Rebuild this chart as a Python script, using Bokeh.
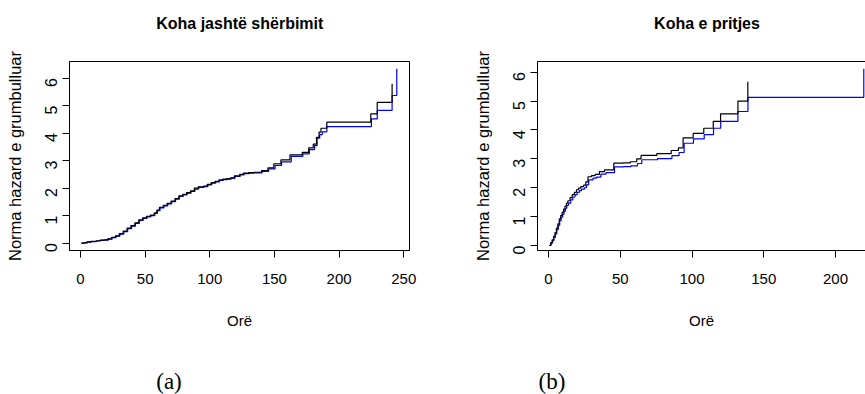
import math
from bokeh.plotting import figure
from bokeh.models import Range1d, FixedTicker, LinearAxis
from bokeh.layouts import row, column
from bokeh.core.properties import value
from bokeh.embed import file_html
from bokeh.resources import INLINE

# ---------------- data ----------------
title_a = "Koha jashtë shërbimit"
title_b = "Koha e pritjes"
y_label = "Norma hazard e grumbulluar"
x_label = "Orë"
tag_a = "(a)"
tag_b = "(b)"

x_ticks_a = [0, 50, 100, 150, 200, 250]
x_ticks_b = [0, 50, 100, 150, 200]
y_ticks = [0, 1, 2, 3, 4, 5, 6]

# panel (a): black and blue cumulative hazard steps
a_black_t = [0.5, 3, 5, 8, 12, 15, 18, 21, 24, 27, 30, 33, 36, 39, 42, 45, 48, 51, 54, 57,
             59, 61, 64, 67, 70, 73, 76, 79, 82, 85, 88, 91, 95, 98, 101, 104, 107, 110, 113, 116,
             119, 123, 126, 130, 134, 140, 145, 149.5, 155, 162, 171.5, 176.5, 180, 182.5, 184.5,
             186, 190.5, 224.5, 229.5, 241]
a_black_h = [0, 0.02, 0.05, 0.07, 0.09, 0.11, 0.12, 0.16, 0.21, 0.27, 0.35, 0.44, 0.55, 0.64, 0.74,
             0.85, 0.92, 0.98, 1.02, 1.10, 1.20, 1.30, 1.38, 1.45, 1.53, 1.62, 1.72, 1.78, 1.84, 1.90,
             2.00, 2.05, 2.08, 2.14, 2.20, 2.25, 2.30, 2.33, 2.35, 2.38, 2.45, 2.50, 2.55, 2.57, 2.58,
             2.64, 2.74, 2.89, 3.03, 3.21, 3.30, 3.47, 3.60, 3.85, 4.04, 4.18, 4.40, 4.70, 5.12, 5.80]

a_blue_t = [1, 3.5, 5.5, 8.5, 12.5, 15.5, 18.5, 21.5, 24.5, 27.5, 30.5, 33.5, 36.5, 39.5, 42.5,
            45.5, 48.5, 51.5, 54.5, 57.5, 59.5, 61.5, 64.5, 67.5, 70.5, 73.5, 76.5, 79.5, 82.5, 85.5,
            88.5, 91.5, 95.5, 98.5, 101.5, 104.5, 107.5, 110.5, 113.5, 116.5, 119.5, 123.5, 126.5,
            130.5, 134.5, 140.5, 145.5, 150.5, 155.5, 163, 172, 177, 181, 183, 185, 187, 190.5, 225,
            229.5, 241, 244.6]
a_blue_h = [0, 0.01, 0.04, 0.06, 0.08, 0.10, 0.11, 0.15, 0.20, 0.26, 0.33, 0.42, 0.53, 0.62, 0.72,
            0.83, 0.90, 0.96, 1.00, 1.08, 1.18, 1.28, 1.36, 1.43, 1.51, 1.60, 1.70, 1.76, 1.82, 1.88,
            1.97, 2.03, 2.06, 2.12, 2.18, 2.23, 2.28, 2.31, 2.33, 2.36, 2.43, 2.48, 2.53, 2.55, 2.56,
            2.61, 2.70, 2.83, 2.96, 3.16, 3.25, 3.40, 3.55, 3.82, 3.95, 4.05, 4.24, 4.52, 4.83, 5.37,
            6.34]

# panel (b)
b_black_t = [0.5, 1.5, 2.5, 3.5, 4.5, 5.5, 6.5, 7.5, 8.5, 9.5, 10.5, 11.5, 12.5, 13.5, 15, 16.5,
             18, 19.5, 21, 22.5, 24.5, 26, 27.5, 30, 32.5, 35.5, 39, 45.5, 52, 57, 61.5, 64.5, 75.5,
             85.5, 90.5, 93.8, 100.8, 108.2, 114.8, 119.9, 132, 138.9]
b_black_h = [0, 0.1, 0.2, 0.32, 0.45, 0.6, 0.75, 0.92, 1.04, 1.15, 1.26, 1.36, 1.47, 1.55, 1.66,
             1.76, 1.84, 1.93, 1.99, 2.04, 2.09, 2.2, 2.38, 2.42, 2.46, 2.56, 2.62, 2.85, 2.86, 2.90,
             3.0, 3.12, 3.18, 3.29, 3.38, 3.73, 3.88, 4.06, 4.30, 4.56, 5.0, 5.67]

b_blue_t = [0.8, 1.8, 2.8, 3.8, 4.8, 5.8, 6.8, 7.8, 8.8, 9.8, 10.8, 11.8, 12.8, 14, 15.5, 17, 18.5,
            20, 21.5, 23, 25, 26.5, 28, 31, 33.5, 36.5, 40, 46, 52.5, 57.5, 62, 65, 76, 86, 91, 94.5,
            101, 108.5, 115, 120, 132, 139, 219.7]
b_blue_h = [0, 0.08, 0.17, 0.28, 0.4, 0.55, 0.7, 0.86, 0.98, 1.08, 1.19, 1.29, 1.39, 1.47, 1.58,
            1.68, 1.76, 1.84, 1.9, 1.95, 2.0, 2.1, 2.27, 2.33, 2.37, 2.47, 2.52, 2.72, 2.73, 2.76,
            2.84, 2.97, 3.01, 3.11, 3.22, 3.54, 3.69, 3.84, 4.06, 4.30, 4.64, 5.13, 6.12]

SANS = "Liberation Sans"
SERIF = "Liberation Serif"

# page layout (pixels)
PAGE_W = 865
TOP_H = 40          # strip that holds the two titles
BOTTOM_H = 34       # strip that holds the panel tags
PANEL_H = 394 - TOP_H - BOTTOM_H
TITLE_POS = [(239.3, TOP_H - 23.0), (706.5, TOP_H - 23.0)]   # vertical text centres
TAG_POS = [(168.5, 13.5), (551.5, 13.5)]


def strip(height):
    s = figure(width=PAGE_W, height=height, output_backend="svg", toolbar_location=None,
               x_range=Range1d(0, PAGE_W), y_range=Range1d(0, height),
               x_axis_type=None, y_axis_type=None, min_border=0)
    s.outline_line_color = None
    s.background_fill_color = "white"
    s.border_fill_color = "white"
    return s


def style_panel(p, xticks):
    p.background_fill_color = "white"
    p.border_fill_color = "white"
    p.xgrid.visible = False
    p.ygrid.visible = False
    for ax in (p.xaxis[0], p.yaxis[0]):
        ax.axis_line_color = "black"
        ax.axis_line_width = 1
        ax.major_tick_line_color = "black"
        ax.major_tick_out = 7
        ax.major_tick_in = 0
        ax.minor_tick_line_color = None
        ax.minor_tick_out = 0
        ax.major_label_text_color = "black"
        ax.axis_label_text_color = "black"
        ax.axis_label_text_font_style = "normal"
    xa, ya = p.xaxis[0], p.yaxis[0]
    xa.ticker = FixedTicker(ticks=xticks)
    ya.ticker = FixedTicker(ticks=y_ticks)
    xa.major_label_text_font = SANS
    xa.major_label_text_font_size = "15px"
    xa.major_label_standoff = 16
    xa.axis_label = x_label
    xa.axis_label_text_font = SANS
    xa.axis_label_text_font_size = "15px"
    xa.axis_label_standoff = 25
    ya.major_label_text_font = SANS
    ya.major_label_text_font_size = "16px"
    ya.major_label_orientation = math.pi / 2
    ya.major_label_standoff = 11
    ya.axis_label = y_label
    ya.axis_label_text_font = SANS
    ya.axis_label_text_font_size = "16.5px"
    ya.axis_label_standoff = 13


# ---------------- titles strip ----------------
top = strip(TOP_H)
top.text(x=[p[0] for p in TITLE_POS], y=[p[1] for p in TITLE_POS], text=[title_a, title_b],
         text_font=value(SANS), text_font_size=value("16px"), text_font_style="bold",
         text_color="black", text_align="center", text_baseline="middle")

# ---------------- panel (a) ----------------
pa = figure(width=440, height=PANEL_H, output_backend="svg", toolbar_location=None,
            x_range=Range1d(-8.51, 254.45), y_range=Range1d(-0.265, 6.607),
            min_border_left=69, min_border_right=31,
            min_border_top=61 - TOP_H, min_border_bottom=PANEL_H - (61 - TOP_H) - 189)
pa.outline_line_color = "black"
pa.outline_line_width = 1
style_panel(pa, x_ticks_a)
pa.step(a_blue_t, a_blue_h, mode="after", line_color="#0000ff", line_width=1.2)
pa.step(a_black_t, a_black_h, mode="after", line_color="black", line_width=1.2)

# ---------------- panel (b) ----------------
pb = figure(width=425, height=PANEL_H, output_backend="svg", toolbar_location=None,
            x_range=Range1d(-7.67, 220.9), y_range=Range1d(-0.173, 6.371),
            min_border_left=97, min_border_right=0,
            min_border_top=61 - TOP_H, min_border_bottom=PANEL_H - (61 - TOP_H) - 189)
pb.outline_line_color = None
style_panel(pb, x_ticks_b)
# frame top line (the frame's right side lies outside the picture)
pb.add_layout(LinearAxis(axis_line_color="black", major_tick_line_color=None,
                         minor_tick_line_color=None, major_tick_out=0, minor_tick_out=0,
                         major_label_text_font_size="0px", major_label_standoff=0,
                         axis_label_standoff=0, ticker=FixedTicker(ticks=[])), "above")
pb.step(b_blue_t, b_blue_h, mode="after", line_color="#0000ff", line_width=1.2)
pb.step(b_black_t, b_black_h, mode="after", line_color="black", line_width=1.2)

# ---------------- tags strip ----------------
bottom = strip(BOTTOM_H)
bottom.text(x=[p[0] for p in TAG_POS], y=[p[1] for p in TAG_POS], text=[tag_a, tag_b],
            text_font=value(SERIF), text_font_size=value("23px"), text_color="black",
            text_align="center", text_baseline="middle")

layout = column(top, row(pa, pb), bottom)
open("out.html", "w").write(file_html(layout, INLINE))
